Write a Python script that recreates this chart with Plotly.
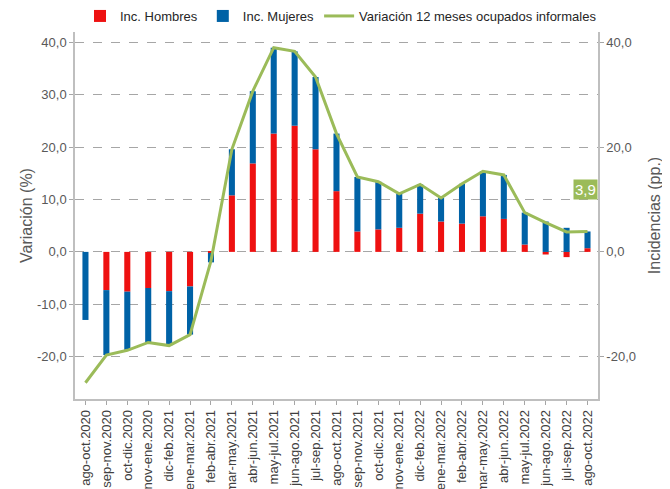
import plotly.graph_objects as go

periodos = [
    "ago-oct.2020", "sep-nov.2020", "oct-dic.2020", "nov-ene.2020", "dic-feb.2021",
    "ene-mar.2021", "feb-abr.2021", "mar-may.2021", "abr-jun.2021", "may-jul.2021",
    "jun-ago.2021", "jul-sep.2021", "ago-oct.2021", "sep-nov.2021", "oct-dic.2021",
    "nov-ene.2021", "dic-feb.2022", "ene-mar.2022", "feb-abr.2022", "mar-may.2022",
    "abr-jun.2022", "may-jul.2022", "jun-ago.2022", "jul-sep.2022", "ago-oct.2022",
]
inc_hombres = [0.0, -7.3, -7.6, -6.9, -7.5, -6.6, -0.2, 10.8, 16.9, 22.6, 24.1, 19.6, 11.6,
               3.9, 4.3, 4.6, 7.3, 5.8, 5.4, 6.8, 6.3, 1.4, -0.5, -1.0, 0.7]
inc_mujeres = [-13.0, -12.4, -11.2, -10.4, -10.4, -9.2, -1.8, 8.8, 13.8, 16.4, 14.2, 13.8, 11.0,
               10.4, 9.1, 6.5, 5.6, 4.5, 7.6, 8.6, 8.4, 6.1, 5.8, 4.6, 3.2]
variacion = [-25.0, -19.7, -18.8, -17.3, -17.9, -15.8, -1.7, 19.6, 30.7, 39.0, 38.3, 33.4, 22.6,
             14.3, 13.4, 11.1, 12.9, 10.3, 13.0, 15.4, 14.7, 7.5, 5.6, 3.8, 3.9]
ticks_izq = [-20, -10, 0, 10, 20, 30, 40]
ticks_der = [-20, 0, 20, 40]

ROJO = "#EE1111"
AZUL = "#0062A6"
VERDE = "#9BBB59"
GRIS_TXT = "#595959"
GRIS_EJE = "#BFBFBF"
rango = [-28.1, 42.0]


def fmt(v):
    # coma decimal y guion normal como en el original
    return f"{v:.1f}".replace(".", ",")


fig = go.Figure()
fig.add_trace(go.Bar(x=periodos, y=inc_hombres, name="Inc. Hombres",
                     marker_color=ROJO, yaxis="y2"))
fig.add_trace(go.Bar(x=periodos, y=inc_mujeres, name="Inc. Mujeres",
                     marker_color=AZUL, yaxis="y2"))
fig.add_trace(go.Scatter(x=periodos, y=variacion, name="Variación 12 meses ocupados informales",
                         mode="lines", line=dict(color=VERDE, width=3), yaxis="y"))

# etiqueta del ultimo dato
fig.add_annotation(x=periodos[-1], y=variacion[-1], yref="y",
                   text=fmt(variacion[-1]),
                   showarrow=False, yshift=42, xshift=-2,
                   bgcolor=VERDE, borderpad=1,
                   font=dict(color="white", size=15))

eje_y = dict(
    range=rango, tickformat=".1f", zeroline=False,
    showline=True, linecolor=GRIS_EJE, linewidth=1.5,
    ticks="outside", ticklen=4, tickcolor="#A6A6A6", automargin=False,
    tickfont=dict(size=13, color=GRIS_TXT),
)

fig.update_layout(
    width=670, height=489,
    template="none",
    barmode="relative",
    bargap=0.71,
    plot_bgcolor="white",
    paper_bgcolor="white",
    font=dict(family="Liberation Sans, Arial, sans-serif", size=13, color=GRIS_TXT),
    margin=dict(l=67, r=80, t=24, b=98),
    legend=dict(orientation="h", xref="container", yref="container",
                x=594 / 670, xanchor="right", y=1 - 8 / 489, yanchor="middle",
                font=dict(size=13, color="#262626"),
                itemwidth=30, bgcolor="rgba(0,0,0,0)"),
    xaxis=dict(
        type="category", tickangle=-90, automargin=False,
        showline=True, linecolor=GRIS_EJE, linewidth=1.5,
        ticks="outside", ticklen=4, tickcolor="#A6A6A6",
        tickfont=dict(size=13, color="#404040"), showgrid=False,
    ),
    yaxis=dict(
        eje_y, overlaying="y2", side="left",
        tickvals=ticks_izq, ticktext=[fmt(v) for v in ticks_izq],
        showgrid=True, gridcolor="#A6A6A6", griddash="dash", gridwidth=1,
        title=dict(text="Variación (%)", font=dict(size=16, color=GRIS_TXT), standoff=0),
    ),
    yaxis2=dict(
        eje_y, side="right",
        tickvals=ticks_der, ticktext=[fmt(v) for v in ticks_der],
        showgrid=False,
        title=dict(text="Incidencias (pp.)", font=dict(size=16, color=GRIS_TXT), standoff=14),
    ),
)

fig.write_html("out.html")
